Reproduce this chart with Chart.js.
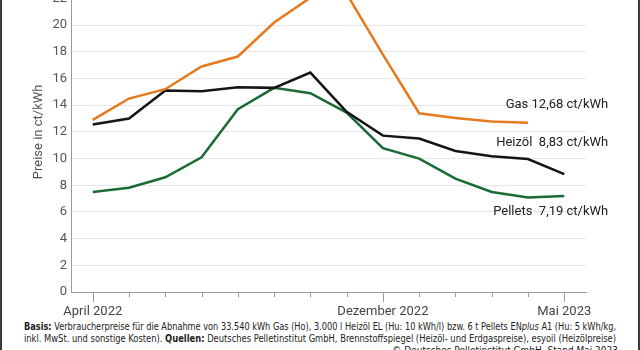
<!DOCTYPE html>
<html lang="de">
<head>
<meta charset="UTF-8">
<title>Preise Gas, Heizöl, Pellets</title>
<script src="https://cdn.jsdelivr.net/npm/chart.js"></script>
<style>
    body { margin: 0; background: #fff; }
    #wrap { position: relative; width: 640px; height: 350px; overflow: hidden; background: #fff; }
    #box { position: absolute; left: 0; top: -40px; width: 640px; height: 358px; }
    .note {
        position: absolute; left: 24px; width: 592px;
        font-family: "DejaVu Sans Condensed", "Liberation Sans Narrow", sans-serif;
        font-size: 10px; line-height: 12.5px; color: #222;
        white-space: nowrap;
    }
    .note span { display: inline-block; transform-origin: left center; }
    .note.right { text-align: right; }
    .note.right span { transform-origin: right center; }
    .edge { position: absolute; top: 0; width: 2px; height: 350px; background: #3c3c3c; }
</style>
</head>
<body>
<div id="wrap">
    <div id="box"><canvas id="chart"></canvas></div>
    <div class="note" style="top:320.5px"><span><b>Basis:</b> Verbraucherpreise für die Abnahme von 33.540 kWh Gas (Ho), 3.000 l Heizöl EL (Hu: 10 kWh/l) bzw. 6 t Pellets EN<i>plus</i> A1 (Hu: 5 kWh/kg,</span></div>
    <div class="note" style="top:333px"><span>inkl. MwSt. und sonstige Kosten). <b>Quellen:</b> Deutsches Pelletinstitut GmbH, Brennstoffspiegel (Heizöl- und Erdgaspreise), esyoil (Heizölpreise)</span></div>
    <div class="note right" style="top:345px;width:594px"><span>© Deutsches Pelletinstitut GmbH, Stand Mai 2023</span></div>
    <div class="edge" style="left:0"></div>
    <div class="edge" style="left:638px"></div>
</div>

<script>
    // months April 2022 .. Mai 2023
    const monthLabels = ['April 2022', '', '', '', '', '', '', '', 'Dezember 2022', '', '', '', '', 'Mai 2023'];
    const majorMonths = [0, 8, 13];

    const gas = [12.9, 14.5, 15.2, 16.9, 17.65, 20.2, 22.05, 22.35, 17.8, 13.4, 13.05, 12.78, 12.68, null];
    const heizoel = [12.55, 13.0, 15.1, 15.05, 15.35, 15.3, 16.45, 13.5, 11.72, 11.5, 10.57, 10.18, 9.97, 8.83];
    const pellets = [7.5, 7.82, 8.6, 10.1, 13.7, 15.3, 14.9, 13.45, 10.78, 10.0, 8.5, 7.5, 7.08, 7.19];

    const endLabels = [
        { text: 'Gas 12,68 ct/kWh', at: 14.05 },
        { text: 'Heizöl  8,83 ct/kWh', at: 11.15 },
        { text: 'Pellets  7,19 ct/kWh', at: 6.05 }
    ];

    const fontFamily = 'Roboto, "Open Sans", sans-serif';

    // the footnote lines are set narrow, squeeze them to the line width
    document.querySelectorAll('.note').forEach(n => {
        const span = n.querySelector('span');
        const w = span.getBoundingClientRect().width;
        const target = n.classList.contains('right') ? 440 : n.clientWidth;
        if (!n.classList.contains('right') || w > target) {
            span.style.transform = 'scaleX(' + (n.clientWidth / w) + ')';
        }
    });

    function toPoints(values) {
        return values.map((v, i) => ({ x: i, y: v }));
    }

    // short minor ticks, longer ticks at labelled months, plus the line labels
    const extras = {
        id: 'extras',
        afterDatasetsDraw(chart) {
            const { ctx, chartArea, scales } = chart;
            const xs = scales.x, ys = scales.y;
            ctx.save();
            ctx.strokeStyle = '#9a9a9a';
            ctx.lineWidth = 1;
            for (let i = 0; i < monthLabels.length; i++) {
                const px = Math.round(xs.getPixelForValue(i)) + 0.5;
                const len = majorMonths.includes(i) ? 10 : 5;
                ctx.beginPath();
                ctx.moveTo(px, chartArea.bottom);
                ctx.lineTo(px, chartArea.bottom + len);
                ctx.stroke();
            }
            ctx.font = '13px ' + fontFamily;
            ctx.fillStyle = '#222';
            ctx.textAlign = 'right';
            ctx.textBaseline = 'middle';
            const right = xs.getPixelForValue(13) + 44;
            endLabels.forEach(l => ctx.fillText(l.text, right, ys.getPixelForValue(l.at)));
            ctx.restore();
        }
    };

    new Chart(document.getElementById('chart'), {
        type: 'line',
        data: {
            datasets: [
                { label: 'Gas', data: toPoints(gas), borderColor: '#e57a1e' },
                { label: 'Heizöl', data: toPoints(heizoel), borderColor: '#151515' },
                { label: 'Pellets', data: toPoints(pellets), borderColor: '#1b6b36' }
            ]
        },
        options: {
            responsive: true,
            maintainAspectRatio: false,
            animation: false,
            layout: { padding: { left: 0, right: 54, top: 10.5, bottom: 0 } },
            elements: {
                line: { borderWidth: 2.5, tension: 0, fill: false },
                point: { radius: 0 }
            },
            plugins: {
                legend: { display: false },
                tooltip: { enabled: false }
            },
            scales: {
                x: {
                    type: 'linear',
                    min: -0.6,
                    max: 13.6,
                    afterFit(s) { s.height = 26; },
                    afterBuildTicks(s) { s.ticks = monthLabels.map((_, i) => ({ value: i })); },
                    grid: { display: false, drawTicks: false },
                    border: { display: true, color: '#9a9a9a', width: 1 },
                    ticks: {
                        autoSkip: false,
                        maxRotation: 0,
                        padding: 12,
                        color: '#444',
                        font: { family: fontFamily, size: 13 },
                        callback: v => monthLabels[v] || ''
                    }
                },
                y: {
                    min: 0,
                    max: 24,
                    afterFit(s) { s.width = 71; },
                    grid: { color: '#e6e6e6', drawTicks: false },
                    border: { display: true, color: '#9a9a9a', width: 1 },
                    ticks: {
                        stepSize: 1,
                        padding: 4,
                        color: '#555',
                        font: { family: fontFamily, size: 13 },
                        callback: v => v % 2 === 0 ? v : ''
                    },
                    title: {
                        display: true,
                        text: 'Preise in ct/kWh',
                        color: '#555',
                        font: { family: fontFamily, size: 13 },
                        padding: { top: 31, bottom: 0 }
                    }
                }
            }
        },
        plugins: [extras]
    });
</script>
</body>
</html>
